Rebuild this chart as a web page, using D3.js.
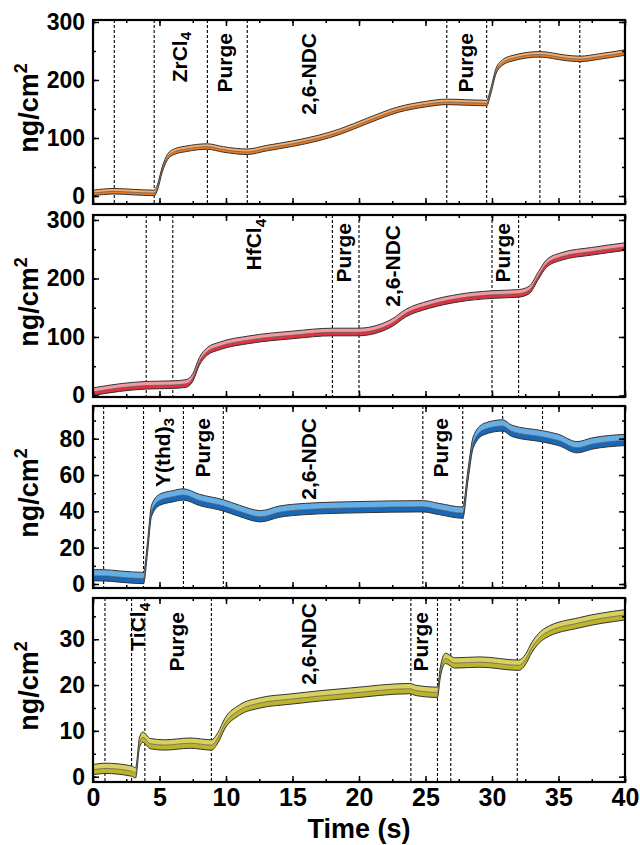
<!DOCTYPE html>
<html>
<head>
<meta charset="utf-8">
<script src="https://cdn.jsdelivr.net/npm/d3@7"></script>
<style>
  body { margin: 0; background: #fff; }
  text { font-family: Arial, "Liberation Sans", sans-serif; font-weight: bold; fill: #000; }
</style>
</head>
<body>
<div id="chart"></div>
<script>
// Data (time in s, mass in ng/cm2)
var zrTime = [0, 1.6, 3.0, 4.6, 4.85, 5.2, 5.6, 6.1, 7.0, 8.6, 9.8, 11.6, 13, 15, 17, 18.6, 20.6, 23, 25, 26.6, 28, 29.6, 29.9, 30.3, 30.8, 31.5, 33.6, 35.5, 36.6, 38, 40];
var zrMass = [5, 8, 6.5, 5, 15, 45, 67, 76, 81, 85, 80, 76, 82, 90, 100, 111, 129, 149, 158, 162, 161, 160, 180, 215, 230, 237, 244, 238, 236, 240, 247];

var hfTime = [0, 2, 4, 6, 7.0, 7.5, 8.0, 8.6, 9.5, 11.8, 15, 18, 20, 21.5, 22.5, 23.5, 25.3, 27.5, 30, 32, 32.8, 33.5, 34.1, 35.2, 37.5, 40];
var hfMass = [6, 13, 17, 18, 20, 30, 58, 75, 84, 95, 103, 108, 108, 114, 124, 140, 155, 166, 172, 174, 180, 205, 225, 237, 246, 254];

var yTime = [0, 0.8, 2, 3.8, 4.1, 4.4, 5.0, 6.0, 6.8, 8, 9.8, 11, 12.6, 14, 16, 20, 24.8, 26, 27.8, 28.2, 28.6, 29.4, 30.8, 31.5, 33.8, 35, 36.4, 37.5, 40];
var yMass = [4.5, 4.5, 3.8, 3, 20, 40, 46, 48, 49, 46, 43, 40, 37, 39.5, 41, 42, 42.5, 41, 39, 60, 78, 85, 87, 84, 81, 79, 75, 77, 79];

var tiTime = [0, 0.9, 2.9, 3.2, 3.5, 3.75, 4.3, 5.4, 7.3, 8.9, 9.4, 9.9, 11, 12.6, 14.8, 17, 19.3, 23.8, 24.3, 25.9, 26.1, 26.5, 27.2, 29.1, 32, 32.5, 33, 34, 36.6, 40];
var tiMass = [1.5, 1.8, 1.2, 0.8, 7.5, 8.6, 7.2, 6.9, 7.3, 6.9, 8.5, 11.5, 14.5, 16.1, 16.9, 17.6, 18.2, 19.2, 18.8, 18.4, 22.5, 25.8, 24.8, 25, 24.3, 25.5, 28.2, 31.3, 33.6, 35.3];

// spread of the band above / below the mean
var zrSpread = [5, 4.5];
var hfSpread = [7, 6];
var ySpread = [3.4, 2.8];
var tiSpread = [1.15, 1.1];

// pulse boundaries (dashed lines)
var zrDashes = [1.6, 4.6, 8.6, 11.6, 26.6, 29.6, 33.6, 36.6];
var hfDashes = [4, 6, 18, 20, 30, 32];
var yDashes = [0.8, 3.8, 6.8, 9.8, 24.8, 27.8, 30.8, 33.8];
var tiDashes = [0.9, 2.9, 3.9, 8.9, 23.9, 25.9, 26.9, 31.9];

// step labels: [text, subscript, time]
var zrLabels = [["ZrCl", "4", 6.47], ["Purge", "", 9.9], ["2,6-NDC", "", 16.2], ["Purge", "", 28.0]];
var hfLabels = [["HfCl", "4", 12.07], ["Purge", "", 18.8], ["2,6-NDC", "", 22.5], ["Purge", "", 30.8]];
var yLabels = [["Y(thd)", "3", 5.2], ["Purge", "", 8.2], ["2,6-NDC", "", 16.2], ["Purge", "", 26.1]];
var tiLabels = [["TiCl", "4", 3.35], ["Purge", "", 6.25], ["2,6-NDC", "", 16.2], ["Purge", "", 24.6]];

var zrTicks = [0, 100, 200, 300];
var hfTicks = [0, 100, 200, 300];
var yTicks = [0, 20, 40, 60, 80];
var tiTicks = [0, 10, 20, 30];
var xTicks = [0, 5, 10, 15, 20, 25, 30, 35, 40];

// Layout
var width = 640, height = 845;
var left = 93, right = 625;

var svg = d3.select("#chart")
    .append("svg")
    .attr("width", width)
    .attr("height", height);

var x = d3.scaleLinear().domain([0, 40]).range([left, right]);

var panels = [
  { time: zrTime, mass: zrMass, spread: zrSpread, dashes: zrDashes, labels: zrLabels, ticks: zrTicks, minor: 50,
    top: 20, bottom: 204, domain: [-13.8, 303.4], light: "#f6ad6c", dark: "#ec7a1e", labelTop: [32, 33, 33, 33] },
  { time: hfTime, mass: hfMass, spread: hfSpread, dashes: hfDashes, labels: hfLabels, ticks: hfTicks, minor: 50,
    top: 215, bottom: 397, domain: [-2.6, 308.5], light: "#f29aa2", dark: "#e2323d", labelTop: [219, 223, 225, 223] },
  { time: yTime, mass: yMass, spread: ySpread, dashes: yDashes, labels: yLabels, ticks: yTicks, minor: 10,
    top: 406, bottom: 588, domain: [-2.2, 98], light: "#66afe6", dark: "#1768b8", labelTop: [418, 418, 418, 418] },
  { time: tiTime, mass: tiMass, spread: tiSpread, dashes: tiDashes, labels: tiLabels, ticks: tiTicks, minor: 5,
    top: 598, bottom: 782, domain: [-1.16, 39], light: "#d8d160", dark: "#bdb42c", labelTop: [603, 612, 603, 612] }
];

var fontStack = "Arial, 'Liberation Sans', sans-serif";

panels.forEach(function(p, i) {
  var y = d3.scaleLinear().domain(p.domain).range([p.bottom, p.top]);
  var g = svg.append("g").attr("class", "panel");
  var rows = p.time.map(function(t, k) { return { t: t, v: p.mass[k] }; });

  var clipId = "clip" + i;
  svg.append("clipPath").attr("id", clipId)
    .append("rect")
    .attr("x", left).attr("y", p.top)
    .attr("width", right - left).attr("height", p.bottom - p.top);

  var plot = g.append("g").attr("clip-path", "url(#" + clipId + ")");

  // dashed pulse boundaries
  plot.selectAll("line.dash")
    .data(p.dashes)
    .enter()
    .append("line")
    .attr("class", "dash")
    .attr("x1", function(d) { return x(d); })
    .attr("x2", function(d) { return x(d); })
    .attr("y1", p.top)
    .attr("y2", p.bottom)
    .attr("stroke", "#000")
    .attr("stroke-width", 1.1)
    .attr("stroke-dasharray", "3,2");

  var curve = d3.curveMonotoneX;

  // upper (light) half of the band
  var upper = d3.area()
    .x(function(d) { return x(d.t); })
    .y0(function(d) { return y(d.v); })
    .y1(function(d) { return y(d.v + p.spread[0]); })
    .curve(curve);
  // lower (dark) half
  var lower = d3.area()
    .x(function(d) { return x(d.t); })
    .y0(function(d) { return y(d.v - p.spread[1]); })
    .y1(function(d) { return y(d.v); })
    .curve(curve);

  plot.append("path").attr("d", upper(rows)).attr("fill", p.light);
  plot.append("path").attr("d", lower(rows)).attr("fill", p.dark);

  var edge = function(off) {
    return d3.line()
      .x(function(d) { return x(d.t); })
      .y(function(d) { return y(d.v + off); })
      .curve(curve);
  };
  plot.append("path").attr("d", edge(p.spread[0])(rows))
    .attr("fill", "none").attr("stroke", "#333").attr("stroke-width", 1);
  plot.append("path").attr("d", edge(-p.spread[1])(rows))
    .attr("fill", "none").attr("stroke", "#333").attr("stroke-width", 1);
  plot.append("path").attr("d", edge(0)(rows))
    .attr("fill", "none").attr("stroke", "#555").attr("stroke-width", 0.7);

  // step labels, rotated
  p.labels.forEach(function(l, k) {
    var t = g.append("text")
      .attr("transform", "translate(" + (x(l[2]) + 7.5) + "," + p.labelTop[k] + ")rotate(-90)")
      .attr("text-anchor", "end")
      .attr("font-size", 21);
    t.append("tspan").text(l[0]);
    if (l[1]) {
      t.append("tspan").attr("font-size", 15).attr("dy", "0.3em").text(l[1]);
    }
  });

  // axes with inward ticks
  var minorTicks = d3.range(p.ticks[0], p.domain[1], p.minor);
  var minorX = d3.range(0, 40.01, 2.5);

  function drawAxis(axis, tx, ty) {
    var a = g.append("g")
      .attr("transform", "translate(" + tx + "," + ty + ")")
      .call(axis);
    a.select(".domain").remove();
    a.selectAll("line").attr("stroke", "#000").attr("stroke-width", 1.5);
    return a;
  }

  var yl = drawAxis(d3.axisLeft(y).tickValues(p.ticks).tickSize(-6).tickPadding(8), left, 0);
  yl.selectAll("text").attr("font-size", 23).attr("font-family", fontStack).attr("font-weight", "bold").attr("fill", "#000");
  drawAxis(d3.axisLeft(y).tickValues(minorTicks).tickSize(-3).tickFormat(""), left, 0);
  drawAxis(d3.axisRight(y).tickValues(p.ticks).tickSize(-6).tickFormat(""), right, 0);
  drawAxis(d3.axisRight(y).tickValues(minorTicks).tickSize(-3).tickFormat(""), right, 0);
  drawAxis(d3.axisTop(x).tickValues(xTicks).tickSize(-6).tickFormat(""), 0, p.top);
  drawAxis(d3.axisTop(x).tickValues(minorX).tickSize(-3).tickFormat(""), 0, p.top);
  var xb = drawAxis(d3.axisBottom(x).tickValues(xTicks).tickSize(-6).tickPadding(6)
      .tickFormat(i === panels.length - 1 ? d3.format("d") : ""), 0, p.bottom);
  xb.selectAll("text").attr("font-size", 25).attr("font-family", fontStack).attr("font-weight", "bold").attr("fill", "#000");
  drawAxis(d3.axisBottom(x).tickValues(minorX).tickSize(-3).tickFormat(""), 0, p.bottom);

  // frame
  g.append("rect")
    .attr("x", left).attr("y", p.top)
    .attr("width", right - left).attr("height", p.bottom - p.top)
    .attr("fill", "none").attr("stroke", "#000").attr("stroke-width", 2.2);

  // y title
  var mid = (p.top + p.bottom) / 2 - 4;
  var yt = g.append("text")
    .attr("transform", "translate(38," + mid + ")rotate(-90)")
    .attr("text-anchor", "middle")
    .attr("font-size", 27);
  yt.append("tspan").text("ng/cm");
  yt.append("tspan").attr("font-size", 18).attr("dy", "-0.6em").text("2");
});

svg.append("text")
  .attr("x", (left + right) / 2)
  .attr("y", 838)
  .attr("text-anchor", "middle")
  .attr("font-size", 27)
  .text("Time (s)");
</script>
</body>
</html>
